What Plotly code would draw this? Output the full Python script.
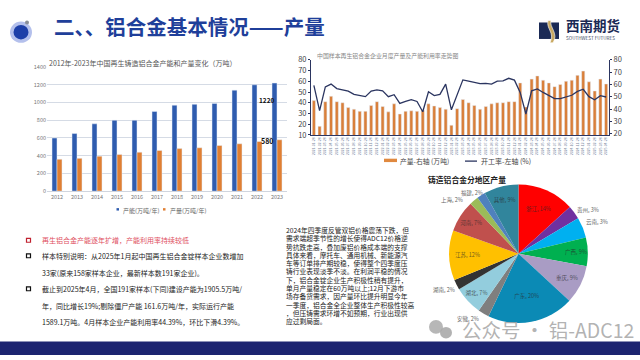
import plotly.graph_objects as go

W, H = 640, 360
FONT = "Noto Sans CJK SC"

# chart 1
years = ["2012","2013","2014","2015","2016","2017","2018","2019","2020","2021","2022","2023"]
capacity = [600,650,760,800,800,900,970,980,990,1140,1200,1220]
output = [360,370,395,415,440,460,480,490,515,535,560,580]

# chart 2
months = [f"{y}-{m:02d}-28" for y in (2021,2022,2023,2024) for m in range(1,13)] + [f"2025-{m:02d}-28" for m in range(1,5)]
prod_bars = [42,18,41,46,41,40,35.5,34,32,32,37.5,41,36.5,31.5,39,29.5,32,32.5,32,33,39,37,35.5,34,19,34.5,
             43,40,37.5,34,36.5,39,40,40,41,41,58.5,36,62,65,61,58.5,55,57,60,61,65.5,69.5,59.5,51,62,57.5]
rate_line = [59.3,38.8,58,60.3,56.6,55.3,54.6,51.9,50.9,50.1,54.6,55.6,54.8,50.1,51.7,44.6,46.2,47.7,46.2,37.8,54,50.9,51.9,60.3,39.4,51.4,
             63.7,62.7,61.9,60.6,60.8,60.3,62.7,62.9,65,63.5,53.5,36,54.8,56.4,53.5,51.2,48.5,48.5,50.1,51.2,54.3,56.1,50.1,47.5,50.9,49.8]

# chart 3
regions = ["浙江, 14%","贵州, 3%","云南, 3%","广西, 9%","重庆, 9%","广东, 20%","安徽, 2%","湖北, 7%","湖南, 2%","江苏, 12%","河南, 7%","上海, 2%","福建, 2%","其他, 9%"]
shares = [13.3,3.2,4.8,6.7,9,20.3,2.6,6.7,2.4,11.7,7.4,2.1,2,8.1]
pie_colors = ["#ff0000","#7030a0","#00b0f0","#00b050","#a99cc4","#0b8ab5","#7f7f7f","#93cddd","#333333","#ffc000","#c0504d","#9bbb59","#4f81bd","#31859c"]
outer_labels = {"贵州, 3%":(588,210),"云南, 3%":(597,223),"安徽, 2%":(468,323),"湖南, 2%":(444,293),"上海, 2%":(452,200),"福建, 2%":(472,193)}

left_lines = [
    ("再生铝合金产能逐年扩增，产能利用率持续较低", 241.7, "#e0505f"),
    ("样本特别说明：从2025年1月起中国再生铝合金锭样本企业数增加", 257.7, "#222222"),
    ("33家(原来158家样本企业，最新样本数191家企业)。", 275, "#222222"),
    ("截止到2025年4月，全国191家样本(下同)建设产能为1905.5万吨/", 291.7, "#222222"),
    ("年，同比增长19%;剔除僵尸产能 161.6万吨/年，实际运行产能", 309, "#222222"),
    ("1589.1万吨。4月样本企业产能利用率44.39%，环比下滑4.39%。", 325.7, "#222222"),
]
right_lines = [
    "2024年四季度反管双铝价格震荡下跌，但",
    "需求端超季节性的增长使得ADC12价格逆",
    "势抗跌走高，叠加废铝价格成本端的支撑",
    "具体来看，摩托车、通用机械、新能源汽",
    "车等订单排产期较稳，使得整个四季度压",
    "铸行业表现淡季不淡。在利润平稳的情况",
    "下，铝合金锭企业生产积极性稍有提升，",
    "单月产量稳定在60万吨以上;12月下游市",
    "场存备货需求，因产量环比提升明显今年",
    "一季度，铝合金全企业整体生产积极性较高",
    "，但压铸需求环增不如预期，行业出现供",
    "应过剩局面。",
]

def px(x): return x / W
def py(y): return 1 - y / H

annotations, shapes = [], []

def text(s, x, y, size, color="#333333", anchor="left", bold=False):
    annotations.append(dict(text=f"<b>{s}</b>" if bold else s, x=px(x), y=py(y), xref="paper", yref="paper",
                            xanchor=anchor, yanchor="middle", showarrow=False,
                            font=dict(family=FONT, size=size, color=color)))

def rect(x0, y0, x1, y1, fill=None, line=None, lw=0, layer="above"):
    shapes.append(dict(type="rect", xref="paper", yref="paper", x0=px(x0), x1=px(x1), y0=py(y0), y1=py(y1),
                       fillcolor=fill or "rgba(0,0,0,0)", line=dict(color=line or "rgba(0,0,0,0)", width=lw), layer=layer))

def circle(cx, cy, r, fill, layer="above"):
    shapes.append(dict(type="circle", xref="paper", yref="paper", x0=px(cx-r), x1=px(cx+r), y0=py(cy+r), y1=py(cy-r),
                       fillcolor=fill, line=dict(width=0), layer=layer))

fig = go.Figure()

fig.add_bar(x=years, y=capacity, name="产能(万吨/年)", marker_color="#2f5caf", xaxis="x", yaxis="y")
fig.add_bar(x=years, y=output, name="产量(万吨/年)", marker_color="#e07f33", xaxis="x", yaxis="y")

fig.add_bar(x=months, y=prod_bars, name="产量-右轴 (万吨)", marker_color="#d97f3a", xaxis="x2", yaxis="y2", width=0.55)
fig.add_scatter(x=months, y=rate_line, name="开工率-左轴 (%)", mode="lines", line=dict(color="#2b3560", width=1.3),
                xaxis="x2", yaxis="y3")

pie_text = ["" if r in outer_labels else r for r in regions]
fig.add_pie(labels=regions, values=shares, text=pie_text, textinfo="text", textposition="inside", sort=False,
            direction="clockwise", rotation=0, insidetextorientation="horizontal",
            marker=dict(colors=pie_colors, line=dict(width=0)),
            insidetextfont=dict(family=FONT, size=5.5, color="rgba(40,40,40,0.7)"),
            domain=dict(x=[px(447), px(590)], y=[py(327), py(184)]), showlegend=False)
for r, (lx, ly) in outer_labels.items():
    text(r, lx, ly, 5.5, "#666666", anchor="center")

rect(0, 346, 640, 360, fill="#1c2470", layer="below")
circle(21, 27, 11, "#b4c0ec")
circle(21, 27, 7.5, "#1d3fa8")
circle(27, 17, 2, "#8a8f98")
text("二、、铝合金基本情况——产量", 52, 21, 20.5, "#1f3f9a", bold=True)

rect(539, 17, 559, 34, fill="#1b2a55")
shapes.append(dict(type="path", xref="paper", yref="paper", layer="above",
                   path=f"M {px(548)},{py(15)} C {px(546)},{py(24)} {px(555)},{py(27)} {px(550)},{py(38)} L {px(553)},{py(38)} C {px(559)},{py(28)} {px(549)},{py(22)} {px(551)},{py(15)} Z",
                   fillcolor="#c9a962", line=dict(color="#ffffff", width=0.6)))
text("西南期货", 564, 20, 13.5, "#1b2a55", bold=True)
text("SOUTHWEST FUTURES", 564, 33, 4.6, "#3a4560")

text("2012年-2023年中国再生铸造铝合金产能和产量变化（万吨）", 47, 59, 7, "#555555")
text("1220", 267, 97, 6.5, "#111111", anchor="center", bold=True)
text("580", 267, 139, 7, "#111111", anchor="center", bold=True)
rect(116.5, 208.5, 119, 211, fill="#2f5caf")
text("产能(万吨/年)", 121, 211, 6, "#666666")
rect(163, 208.5, 165.5, 211, fill="#e07f33")
text("产量(万吨/年)", 167.5, 211, 6, "#666666")

text("中国样本再生铝合金企业月度产量及产能利用率走势图", 315, 51, 5.9, "#888888")
rect(384, 157.5, 397, 161, fill="#e0893f")
text("产量-右轴 (万吨)", 397.5, 160, 6.8, "#444444")
shapes.append(dict(type="line", xref="paper", yref="paper", x0=px(465), x1=px(477), y0=py(160), y1=py(160),
                   line=dict(color="#2b3560", width=1.3)))
text("开工率-左轴 (%)", 479, 160, 7, "#444444")

text("铸造铝合金分地区产量", 426, 179, 7.8, "#222222", bold=True)

for s, y, c in left_lines:
    text(s, 40, y, 7.0, c)
for y, c in ((241.7, "#c0202f"), (257.7, "#111111"), (291.7, "#111111")):
    rect(26.5, y-2, 30.5, y+2, line=c, lw=1.2)
for i, s in enumerate(right_lines):
    text(s, 284, 231 + i * 8.55, 6.75, "#222222")

circle(436, 331, 7, "rgba(170,170,170,0.85)")
circle(446, 337, 6, "rgba(170,170,170,0.9)")
text("公众号 · 铝-ADC12", 460, 334, 19.5, "rgba(165,165,165,0.85)")

fig.update_layout(
    width=W, height=H, margin=dict(l=0, r=0, t=0, b=0), paper_bgcolor="white", plot_bgcolor="rgba(0,0,0,0)",
    showlegend=False, barmode="group", bargap=0.5, bargroupgap=0, annotations=annotations, shapes=shapes,
    font=dict(family=FONT),
    xaxis=dict(domain=[px(47), px(287)], anchor="y", type="category", showgrid=False, showline=True, linecolor="#d0d5de",
               ticks="", tickfont=dict(size=5.5, color="#777777", family=FONT), ticklen=0, tickangle=0),
    yaxis=dict(domain=[py(191), py(63)], anchor="x", range=[0, 1400], dtick=200, showgrid=True, gridcolor="#d5dbe5",
               gridwidth=0.8, zeroline=False, showline=False, ticks="", tickfont=dict(size=5.5, color="#777777", family=FONT)),
    xaxis2=dict(domain=[px(311), px(609)], anchor="y2", type="category", showgrid=False, showline=True, linecolor="#2b3560",
                ticks="", tickangle=-90, tickmode="linear", dtick=1, tickfont=dict(size=3.5, color="#7a86a0", family=FONT)),
    yaxis2=dict(domain=[py(133), py(55.5)], anchor="x2", range=[10, 80], dtick=10, showgrid=False, zeroline=False,
                showline=True, linecolor="#2b3560", linewidth=1, ticks="outside", ticklen=2, tickcolor="#2b3560",
                tickfont=dict(size=7.5, color="#444444", family=FONT)),
    yaxis3=dict(domain=[py(133), py(55.5)], anchor="x2", overlaying="y2", side="right", range=[19, 80], tick0=20, dtick=10,
                showgrid=False, zeroline=False, showline=True, linecolor="#2b3560", linewidth=1, ticks="outside", ticklen=2,
                tickcolor="#2b3560", tickfont=dict(size=7.5, color="#444444", family=FONT)),
)

fig.write_html("out.html", config=dict(displayModeBar=False),
               post_script="document.body.style.margin='0';document.body.style.overflow='hidden';")
